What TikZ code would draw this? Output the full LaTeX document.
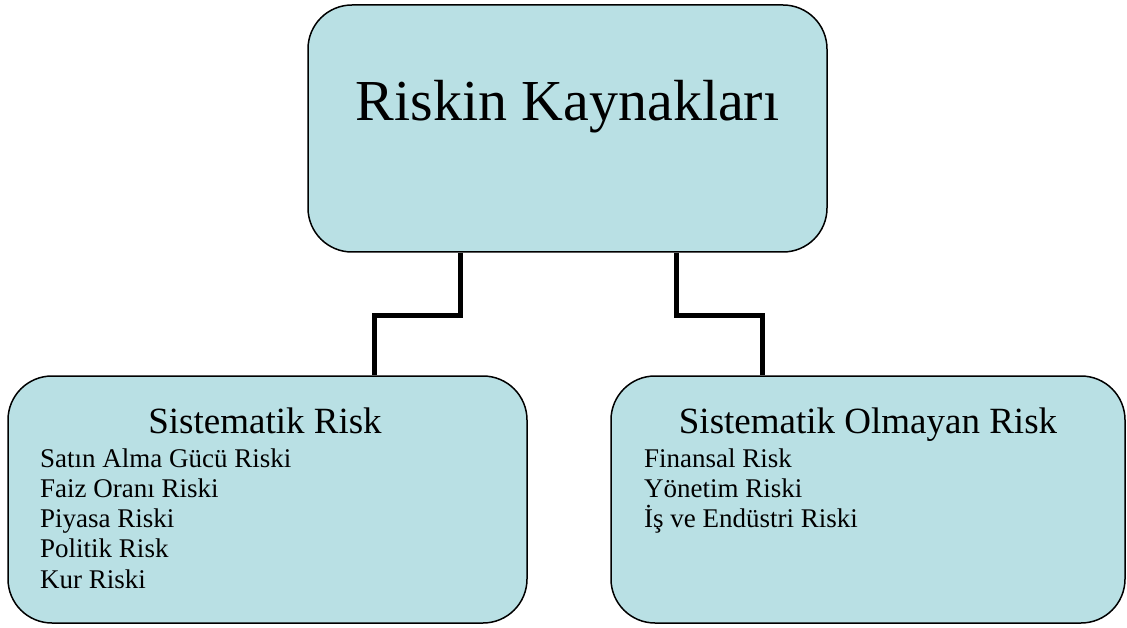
\documentclass[tikz,border=0pt]{standalone}
\usepackage{fontspec}
\setmainfont{Liberation Serif}
\definecolor{boxfill}{RGB}{185,224,228}
\tikzset{
  rbox/.style={draw=black, line width=1.5pt, fill=boxfill, rounded corners=44pt, inner sep=0pt},
  conn/.style={draw=black, line width=5pt},
  item/.style={anchor=base west, inner sep=0pt, font=\fontsize{27}{31}\selectfont},
  head/.style={anchor=base, inner sep=0pt, font=\fontsize{37}{40}\selectfont},
}
\begin{document}
\begin{tikzpicture}[x=1pt,y=-1pt]
\useasboundingbox (0,0) rectangle (1127,628);
\node[rbox, minimum width=519pt, minimum height=247pt] (top) at (567.5,128.5) {};
\node[rbox, minimum width=519pt, minimum height=247pt] (left) at (267.5,499.5) {};
\node[rbox, minimum width=514pt, minimum height=247pt] (right) at (868,499.5) {};
\node[anchor=base, inner sep=0pt, font=\fontsize{58}{60}\selectfont] (title) at (567.5,121) {Riskin Kaynakları};
\node[head] (lh) at (265,433) {Sistematik Risk};
\node[item] (l1) at (40,467) {Satın Alma Gücü Riski};
\node[item] (l2) at (40,497.3) {Faiz Oranı Riski};
\node[item] (l3) at (40,527.6) {Piyasa Riski};
\node[item] (l4) at (40,557.9) {Politik Risk};
\node[item] (l5) at (40,588.2) {Kur Riski};
\node[head] (rh) at (868,433) {Sistematik Olmayan Risk};
\node[item] (r1) at (644,467) {Finansal Risk};
\node[item] (r2) at (644,497.3) {Yönetim Riski};
\node[item] (r3) at (644,527.6) {İş ve Endüstri Riski};
\coordinate (a1) at (460,316);
\coordinate (a2) at (374,316);
\coordinate (b1) at (676,316);
\coordinate (b2) at (762,316);
\draw[conn] (top.south -| a1) -- (a1) -- (a2) -- (left.north -| a2);
\draw[conn] (top.south -| b1) -- (b1) -- (b2) -- (right.north -| b2);
\end{tikzpicture}
\end{document}
